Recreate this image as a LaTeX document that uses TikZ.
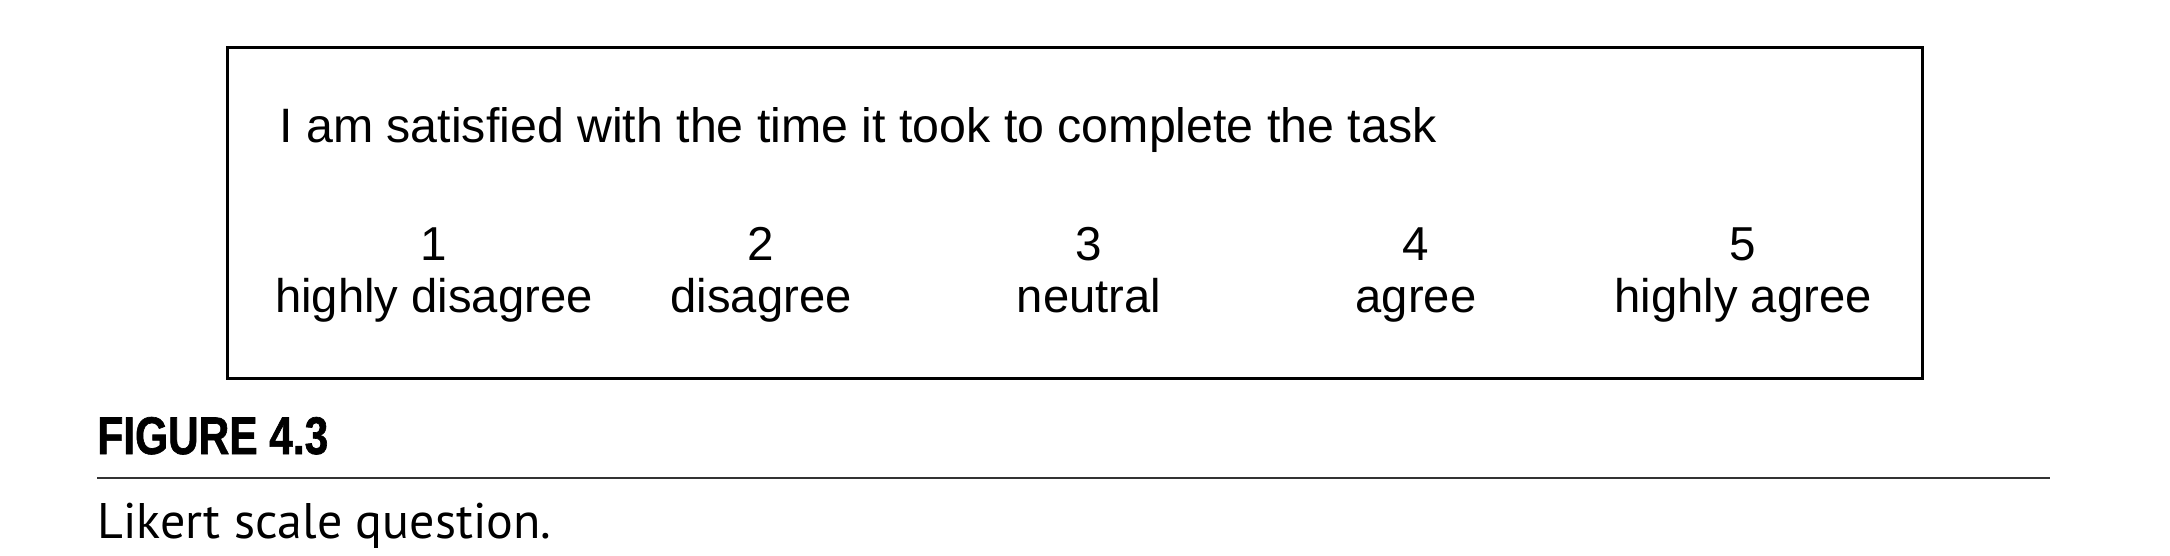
\documentclass[tikz,border=0pt]{standalone}
\usepackage{fontspec}
\setmainfont{Liberation Sans}
\newfontfamily\figfont[FakeStretch=0.8,FakeBold=1.2]{Liberation Sans}
\newfontfamily\capfont{PT Sans}
\usetikzlibrary{positioning}
\tikzset{
  frame/.style={draw, line width=1.5pt, anchor=north west, inner sep=0pt},
  question/.style={anchor=base west, inner sep=0pt, font=\fontsize{24.15pt}{28pt}\selectfont},
  scalenum/.style={anchor=base, inner sep=0pt, font=\fontsize{23.8pt}{27pt}\selectfont},
  scalelab/.style={anchor=base, inner sep=0pt, font=\fontsize{23.6pt}{27pt}\selectfont},
}
\begin{document}
\begin{tikzpicture}[x=0.5pt, y=-0.5pt]
                \useasboundingbox (0,0) rectangle (2170,556);
                \node[frame, minimum width=847.5pt, minimum height=165pt](FRAME) at (226,46.5) {};
                \node[question](Q) at (279,143) {I am satisfied with the time it took to complete the task};
                \foreach \i/\x/\lbl in {1/434/highly disagree, 2/761/disagree, 3/1089/neutral, 4/1416/agree, 5/1743/highly agree}{
                    \node[scalenum](NUM\i) at (\x,260) {\i};
                    \node[scalelab](LAB\i) at (\x,312.5) {\lbl};
                }
                \node[anchor=base west, inner sep=0pt, font=\figfont\bfseries\fontsize{26.5pt}{30pt}\selectfont](FIG) at (97,454) {FIGURE 4.3};
                \draw[line width=1pt, black!80] (97,477.5) -- (2050,477.5);
                \node[anchor=base west, inner sep=0pt, font=\capfont\fontsize{25pt}{30pt}\selectfont](CAP) at (97,538) {Likert scale question.};
            \end{tikzpicture}
\end{document}
